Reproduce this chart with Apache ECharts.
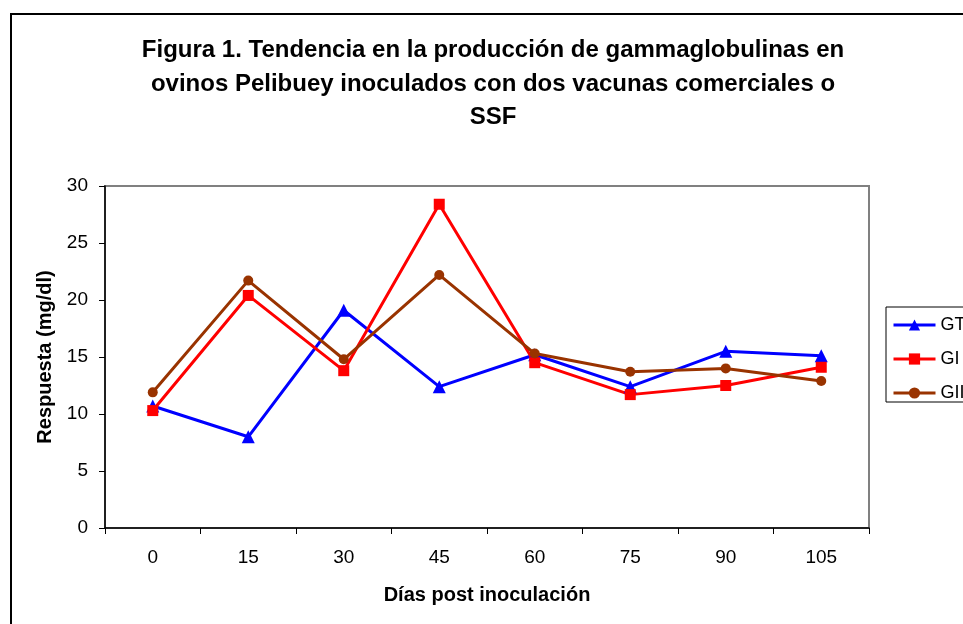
<!DOCTYPE html>
<html>
<head>
<meta charset="utf-8">
<script src="https://cdn.jsdelivr.net/npm/echarts@6/dist/echarts.min.js"></script>
<style>
  html, body { margin: 0; padding: 0; background: #fff; overflow: hidden; }
  #chart { width: 986px; height: 640px; }
</style>
</head>
<body>
<div id="chart"></div>
<script>
const days = ["0", "15", "30", "45", "60", "75", "90", "105"];
const gt = [10.7, 8.0, 19.1, 12.4, 15.2, 12.4, 15.5, 15.1];
const gi = [10.3, 20.4, 13.8, 28.4, 14.5, 11.7, 12.5, 14.1];
const gii = [11.9, 21.7, 14.8, 22.2, 15.3, 13.7, 14.0, 12.9];
const yTicks = { min: 0, max: 30, step: 5 };

const font = "Liberation Sans, Arial, sans-serif";

const chart = echarts.init(document.getElementById("chart"), null, { renderer: "canvas" });

function lineSeries(name, data, color, symbol, size) {
    return {
        name: name,
        type: "line",
        data: data,
        symbol: symbol,
        symbolSize: size,
        lineStyle: { color: color, width: 3 },
        itemStyle: { color: color },
        emphasis: { disabled: true }
    };
}

chart.setOption({
    animation: false,
    backgroundColor: "#fff",
    textStyle: { fontFamily: font },
    title: {
        text: "Figura 1. Tendencia en la producción de gammaglobulinas en\novinos Pelibuey inoculados con dos vacunas comerciales o\nSSF",
        left: "center",
        top: 34,
        padding: 0,
        textStyle: { fontFamily: font, fontSize: 24, fontWeight: "bold", color: "#000", lineHeight: 33.5 }
    },
    // outer chart frame (continues past the window edge)
    graphic: [{
        type: "rect",
        shape: { x: 11, y: 14, width: 964, height: 700 },
        style: { fill: null, stroke: "#000", lineWidth: 2 },
        silent: true
    }],
    grid: {
        left: 105, top: 186, width: 764, height: 342,
        show: true, borderColor: "#808080", borderWidth: 2, backgroundColor: "transparent"
    },
    legend: {
        orient: "vertical",
        left: 886,
        top: 307,
        padding: [9, 6, 0, 6],
        itemGap: 16,
        itemWidth: 42,
        itemHeight: 14,
        lineStyle: { width: 3 },
        borderColor: "#000",
        borderWidth: 1,
        textStyle: { fontFamily: font, fontSize: 18, color: "#000" },
        data: ["GT", "GI", "GII"]
    },
    xAxis: {
        type: "category",
        data: days,
        boundaryGap: true,
        name: "Días post inoculación",
        nameLocation: "middle",
        nameGap: 57,
        nameTextStyle: { fontFamily: font, fontSize: 20, fontWeight: "bold", color: "#000" },
        axisLine: { lineStyle: { color: "#000", width: 1.5 } },
        axisTick: { show: true, inside: false, length: 6, lineStyle: { color: "#000" } },
        axisLabel: { fontSize: 19, color: "#000", margin: 20, fontFamily: font },
        splitLine: { show: false }
    },
    yAxis: {
        type: "value",
        min: yTicks.min,
        max: yTicks.max,
        interval: yTicks.step,
        name: "Respuesta (mg/dl)",
        nameLocation: "middle",
        nameGap: 50,
        nameTextStyle: { fontFamily: font, fontSize: 20, fontWeight: "bold", color: "#000" },
        axisLine: { show: true, lineStyle: { color: "#000", width: 1.5 } },
        axisTick: { show: true, inside: false, length: 6, lineStyle: { color: "#000" } },
        axisLabel: { fontSize: 19, color: "#000", margin: 17, fontFamily: font },
        splitLine: { show: false }
    },
    series: [
        lineSeries("GT", gt, "#0000FF", "triangle", 13),
        lineSeries("GI", gi, "#FF0000", "rect", 11),
        lineSeries("GII", gii, "#993300", "circle", 10)
    ]
});
</script>
</body>
</html>
